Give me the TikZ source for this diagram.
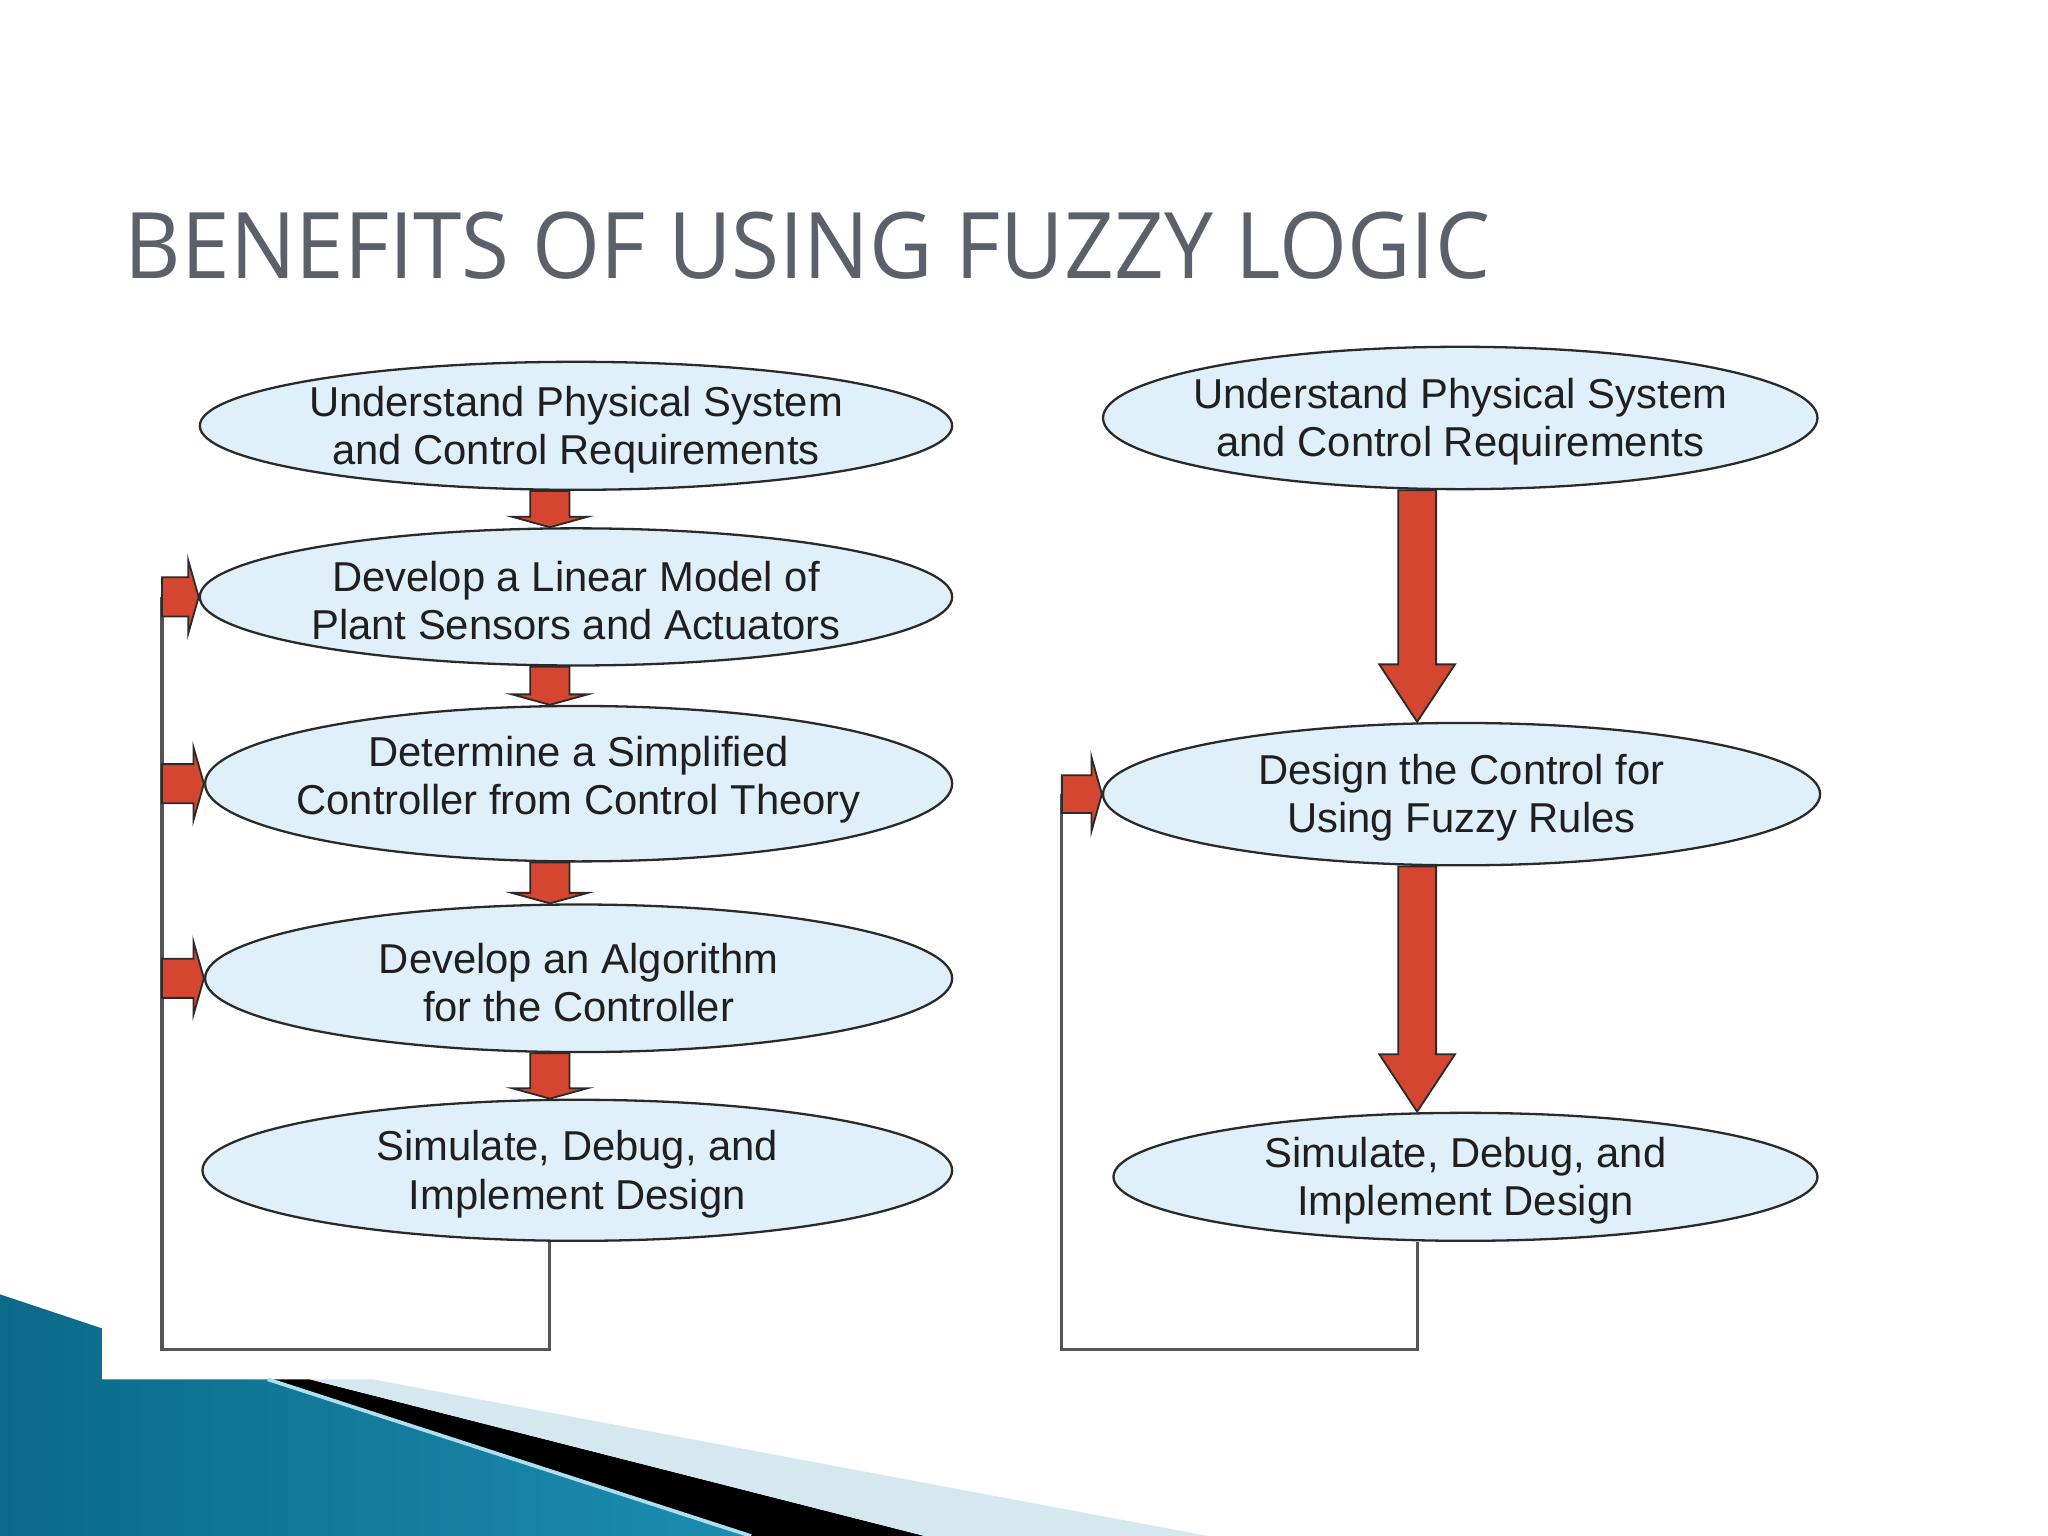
\documentclass[tikz,border=0pt]{standalone}
\usepackage{graphicx}
\usepackage{fontspec}
\setmainfont{Liberation Sans}
\newfontfamily\titlefont{Open Sans}
\usetikzlibrary{shapes.geometric,calc}

\definecolor{stepfill}{HTML}{DFF0FB}
\definecolor{stepline}{HTML}{2A2A2A}
\definecolor{arrowred}{HTML}{D4462F}
\definecolor{titlegray}{HTML}{5B606B}
\definecolor{loopgray}{HTML}{555555}
\definecolor{tealdark}{HTML}{0B6A88}
\definecolor{teallight}{HTML}{5CC0E0}
\definecolor{tealmid}{HTML}{1B8DB0}
\definecolor{stripeblue}{HTML}{D5E7EF}

\tikzset{
  stepbox/.style={ellipse, draw=stepline, fill=stepfill, line width=0.5pt, inner sep=0pt},
  steptext/.style={align=center, inner sep=0pt, yshift=-0.3mm, text=black!88, font=\fontsize{9.1}{10.5}\selectfont},
  blockarrow/.style={fill=arrowred, draw=stepline, line width=0.4pt, line join=miter},
  loopline/.style={draw=loopgray, line width=0.7pt}
}

% flèche pleine vers le bas : départ, pointe, demi-corps, demi-tête, longueur de tête
\newcommand{\flechebas}[5]{%
  \filldraw[blockarrow] ($(#1)+(-#3,0)$) -- ($(#2)+(-#3,-#5)$) -- ($(#2)+(-#4,-#5)$) -- (#2)
    -- ($(#2)+(#4,-#5)$) -- ($(#2)+(#3,-#5)$) -- ($(#1)+(#3,0)$) -- cycle;}
% flèche pleine vers la droite
\newcommand{\flechedroite}[5]{%
  \filldraw[blockarrow] ($(#1)+(0,-#3)$) -- ($(#2)+(-#5,-#3)$) -- ($(#2)+(-#5,-#4)$) -- (#2)
    -- ($(#2)+(-#5,#4)$) -- ($(#2)+(-#5,#3)$) -- ($(#1)+(0,#3)$) -- cycle;}

\begin{document}
\begin{tikzpicture}[x=0.1mm, y=-0.1mm]
	% Cadre
	\useasboundingbox (0,0) rectangle (1568,1176);
	\fill[white] (0,0) rectangle (1568,1176);
	
	% Bandeau en bas à gauche
	\shade[left color=tealdark, middle color=teallight, right color=tealmid] (0,991) -- (78,1017) -- (78,1056) -- (205,1056) -- (575,1176) -- (0,1176) -- cycle;
	\fill[black] (205,1056) -- (237,1056) -- (708,1176) -- (575,1176) -- cycle;
	\fill[stripeblue] (237,1056) -- (285,1056) -- (925,1176) -- (708,1176) -- cycle;
	\draw[teallight!50!white, line width=0.8pt] (205,1056) -- (575,1176);
	
	% Titre
	\node[anchor=base west, inner sep=0pt, text=titlegray] (title) at (95,213) {\resizebox{10.45cm}{0.51cm}{\titlefont BENEFITS OF USING FUZZY LOGIC}};
	
	% Repères des flèches et des boucles
	\coordinate (lx) at (421,0);
	\coordinate (rx) at (1085,0);
	\coordinate (lfb) at (124,0);
	\coordinate (rfb) at (813,0);
	\coordinate (bot) at (0,1033);
	
	% Colonne de gauche
	\node[stepbox, minimum width=5.76cm, minimum height=0.98cm] (A1) at (441,326) {};
	\node[steptext] (A1t) at (A1) {Understand Physical System\\and Control Requirements};
	\node[stepbox, minimum width=5.76cm, minimum height=1.05cm] (A2) at (441,457) {};
	\node[steptext] (A2t) at (A2) {Develop a Linear Model of\\Plant Sensors and Actuators};
	\node[stepbox, minimum width=5.72cm, minimum height=1.19cm] (A3) at (443,600) {};
	\node[steptext] (A3t) at ($(A3)+(0,-6)$) {Determine a Simplified\\Controller from Control Theory};
	\node[stepbox, minimum width=5.72cm, minimum height=1.13cm] (A4) at (443,749) {};
	\node[steptext] (A4t) at (A4) {Develop an Algorithm\\for the Controller};
	\node[stepbox, minimum width=5.74cm, minimum height=1.08cm] (A5) at (442,896) {};
	\node[steptext] (A5t) at (A5) {Simulate, Debug, and\\Implement Design};
	
	% Colonne de droite
	\node[stepbox, minimum width=5.47cm, minimum height=1.09cm] (B1) at (1118,320) {};
	\node[steptext] (B1t) at (B1) {Understand Physical System\\and Control Requirements};
	\node[stepbox, minimum width=5.49cm, minimum height=1.09cm] (B2) at (1119,608) {};
	\node[steptext] (B2t) at (B2) {Design the Control for\\Using Fuzzy Rules};
	\node[stepbox, minimum width=5.39cm, minimum height=0.98cm] (B3) at (1122,901) {};
	\node[steptext] (B3t) at (B3) {Simulate, Debug, and\\Implement Design};
	
	% Boucles de retour
	\draw[loopline] (A5.south -| lx) -- (lx |- bot) -| (A2.west -| lfb);
	\draw[loopline] (B3.south -| rx) -- (rx |- bot) -| (B2.west -| rfb);
	
	% Flèches
	\flechebas{A1.south -| lx}{A2.north -| lx}{15}{29}{8}
	\flechebas{A2.south -| lx}{A3.north -| lx}{15}{29}{8}
	\flechebas{A3.south -| lx}{A4.north -| lx}{15}{29}{8}
	\flechebas{A4.south -| lx}{A5.north -| lx}{15}{29}{8}
	\flechebas{B1.south -| rx}{B2.north -| rx}{14.5}{29}{44}
	\flechebas{B2.south -| rx}{B3.north -| rx}{14.5}{29}{44}
	\flechedroite{A2.west -| lfb}{A2.west}{15}{28}{8}
	\flechedroite{A3.west -| lfb}{A3.west}{15}{28}{8}
	\flechedroite{A4.west -| lfb}{A4.west}{15}{28}{8}
	\flechedroite{B2.west -| rfb}{B2.west}{14.5}{28.5}{8}
\end{tikzpicture}
\end{document}
